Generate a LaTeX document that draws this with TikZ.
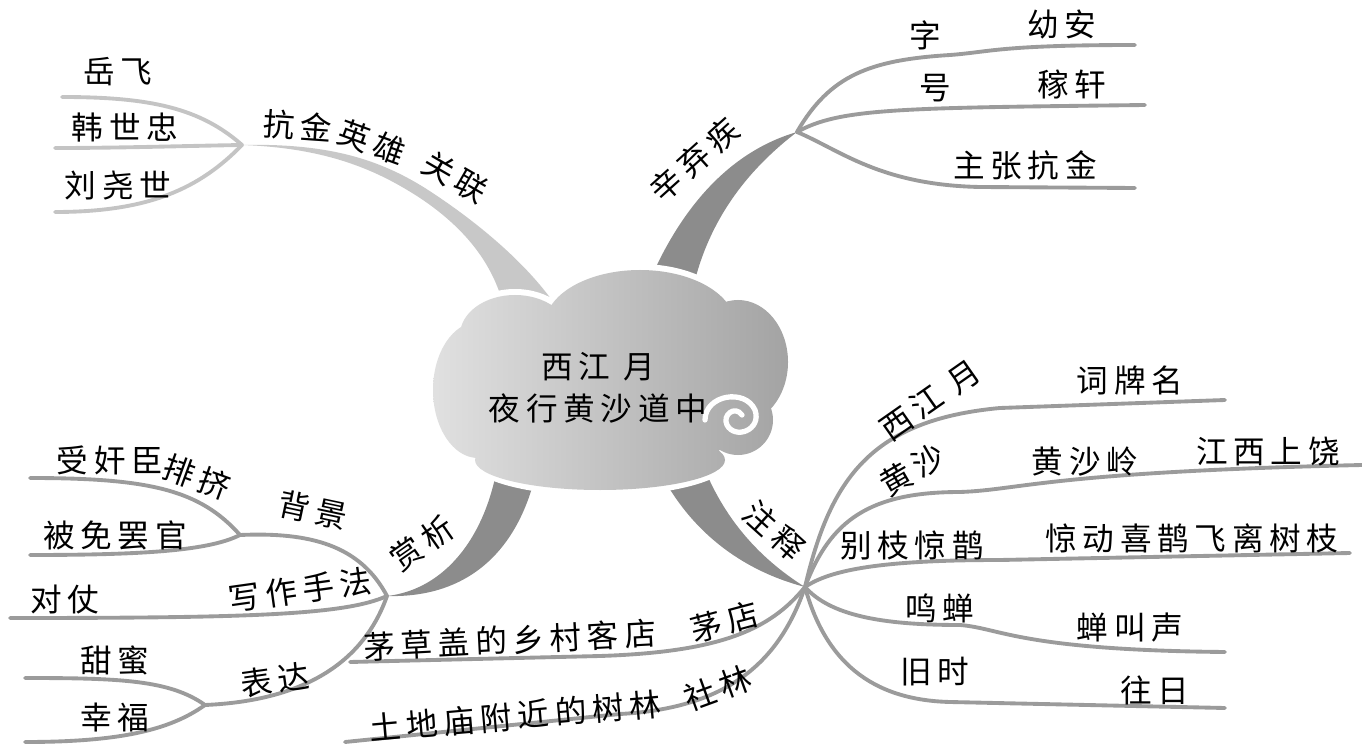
\documentclass[tikz,border=0pt]{standalone}
\usepackage{fontspec}
\newfontfamily\cjk[LetterSpace=18]{Noto Sans CJK SC}
\usetikzlibrary{positioning}
\definecolor{banddark}{RGB}{140,140,140}
\definecolor{bandlight}{RGB}{200,200,200}
\definecolor{twiggray}{RGB}{155,155,155}
\definecolor{twiglight}{RGB}{196,196,196}

\begin{document}
\begin{tikzpicture}[x=0.02cm, y=-0.02cm,
    word/.style={font=\cjk\fontsize{18}{24}\selectfont, inner sep=0pt},
    twig/.style={draw=twiggray, line width=2.2pt, line cap=round},
    lighttwig/.style={twig, draw=twiglight}
]
\useasboundingbox (0,0) rectangle (1362,746);

% junctions
\coordinate (j1) at (242,145);
\coordinate (j2) at (797,132);
\coordinate (j3) at (387,596);
\coordinate (j4) at (240,535);
\coordinate (j5) at (205,705);
\coordinate (j6) at (805,587);

% free ends
\coordinate (yf-e) at (62,97);
\coordinate (hsz-e) at (55,148);
\coordinate (lys-e) at (55,212);
\coordinate (zi-e) at (1135,45);
\coordinate (hao-e) at (1145,105);
\coordinate (zz-e) at (1135,188);
\coordinate (pj-e) at (30,478);
\coordinate (bm-e) at (30,555);
\coordinate (dz-e) at (10,618);
\coordinate (tm-e) at (25,678);
\coordinate (xf-e) at (25,742);
\coordinate (md-e) at (350,662);
\coordinate (sl-e) at (345,742);
\coordinate (cpm-e) at (1225,400);
\coordinate (jx-e) at (1362,465);
\coordinate (jd-e) at (1350,553);
\coordinate (cj-e) at (1225,652);
\coordinate (wr-e) at (1225,708);

% main bands
\fill[bandlight] (j1) .. controls (330,143) and (380,160) .. (425,188)
    .. controls (475,220) and (530,265) .. (560,312) -- (505,312)
    .. controls (495,265) and (465,228) .. (420,198)
    .. controls (380,172) and (330,148) .. (j1);
\fill[banddark] (j2) .. controls (735,150) and (685,200) .. (650,280) -- (695,280)
    .. controls (712,215) and (750,168) .. (j2);
\fill[banddark] (j3) .. controls (440,590) and (480,545) .. (495,478) -- (532,488)
    .. controls (510,560) and (460,598) .. (j3);
\fill[banddark] (660,472) .. controls (690,530) and (740,570) .. (j6)
    .. controls (770,565) and (730,530) .. (705,470) -- cycle;

% twigs
\draw[lighttwig] (j1) .. controls (200,108) and (150,97) .. (yf-e);
\draw[lighttwig] (j1) .. controls (180,146) and (120,148) .. (hsz-e);
\draw[lighttwig] (j1) .. controls (200,188) and (150,212) .. (lys-e);

\draw[twig] (j2) .. controls (830,75) and (870,60) .. (950,55)
    .. controls (990,52) and (1000,45) .. (zi-e);
\draw[twig] (j2) .. controls (840,108) and (900,108) .. (hao-e);
\draw[twig] (j2) .. controls (840,150) and (880,185) .. (980,187) -- (zz-e);

\draw[twig] (j3) .. controls (360,545) and (310,532) .. (j4);
\draw[twig] (j4) .. controls (200,490) and (150,478) .. (pj-e);
\draw[twig] (j4) .. controls (210,550) and (150,555) .. (bm-e);
\draw[twig] (j3) .. controls (345,615) and (250,618) .. (dz-e);
\draw[twig] (j3) .. controls (368,650) and (320,700) .. (j5);
\draw[twig] (j5) .. controls (170,680) and (120,678) .. (tm-e);
\draw[twig] (j5) .. controls (170,730) and (120,742) .. (xf-e);

\draw[twig] (j6) .. controls (770,630) and (720,652) .. (600,656) -- (md-e);
\draw[twig] (j6) .. controls (780,660) and (730,708) .. (620,714) -- (sl-e);
\draw[twig] (j6) .. controls (830,480) and (870,420) .. (1000,408) -- (cpm-e);
\draw[twig] (j6) .. controls (830,520) and (870,492) .. (960,492)
    .. controls (1020,490) and (1050,472) .. (jx-e);
\draw[twig] (j6) .. controls (830,570) and (880,560) .. (1000,560) -- (jd-e);
\draw[twig] (j6) .. controls (830,615) and (880,625) .. (960,625)
    .. controls (1000,628) and (1020,650) .. (cj-e);
\draw[twig] (j6) .. controls (825,660) and (870,700) .. (950,702) -- (wr-e);

% cloud
\fill[white] (610,392) ellipse [x radius=156, y radius=91]
    (640,325) ellipse [x radius=101, y radius=61]
    (478,390) ellipse [x radius=51, y radius=74]
    (515,335) ellipse [x radius=61, y radius=46]
    (738,362) ellipse [x radius=56, y radius=68]
    (600,460) ellipse [x radius=131, y radius=36]
    (738,420) circle [radius=41];
\shade[left color=black!12, right color=black!36]
    (610,392) ellipse [x radius=150, y radius=85]
    (640,325) ellipse [x radius=95, y radius=55]
    (478,390) ellipse [x radius=45, y radius=68]
    (515,335) ellipse [x radius=55, y radius=40]
    (738,362) ellipse [x radius=50, y radius=62]
    (600,460) ellipse [x radius=125, y radius=30]
    (738,420) circle [radius=35];
\draw[white, line width=3pt, line cap=round] (705,420) .. controls (705,395) and (745,388) .. (755,410)
    .. controls (762,430) and (735,440) .. (727,425) .. controls (722,415) and (735,405) .. (742,415);

\node[word, align=center] (title) at (598,388) {西江 月\\夜行黄沙道中};

% labels
\node[word] (yuefei) at (118,72) {岳飞};
\node[word] (hanshizhong) at (125,128) {韩世忠};
\node[word] (liuyaoshi) at (118,186) {刘尧世};
\node[word, rotate=-4] (kangjin) at (298,126) {抗金};
\node[word, rotate=-20] (yingxiong) at (372,142) {英雄};
\node[word, rotate=-30] (guanlian) at (455,177) {关联};
\node[word, rotate=42] (xinqiji) at (694,160) {辛弃疾};
\node[word] (zi) at (925,35) {字};
\node[word] (youan) at (1062,25) {幼安};
\node[word] (hao) at (935,88) {号};
\node[word] (jiaxuan) at (1072,85) {稼轩};
\node[word] (zhuzhang) at (1025,165) {主张抗金};

\node[word, rotate=35] (shangxi) at (422,543) {赏析};
\node[word, rotate=-12] (beijing) at (313,510) {背景};
\node[word] (shoujian) at (110,460) {受奸臣};
\node[word, rotate=-20] (paiji) at (197,477) {排挤};
\node[word] (bianmian) at (115,535) {被免罢官};
\node[word, rotate=8] (xiezuo) at (300,590) {写作手法};
\node[word] (duizhang) at (65,600) {对仗};
\node[word, rotate=8] (biaoda) at (275,680) {表达};
\node[word] (tianmi) at (115,660) {甜蜜};
\node[word] (xingfu) at (115,718) {幸福};
\node[word, rotate=3] (maocao) at (510,640) {茅草盖的乡村客店};
\node[word, rotate=15] (maodian) at (725,622) {茅店};
\node[word, rotate=5] (tudi) at (515,716) {土地庙附近的树林};
\node[word, rotate=20] (shelin) at (718,688) {社林};

\node[word, rotate=-42] (zhushi) at (774,531) {注释};
\node[word, rotate=35] (xijiang) at (930,400) {西江 月};
\node[word] (cipai) at (1130,380) {词牌名};
\node[word, rotate=30] (huangsha) at (912,470) {黄沙};
\node[word] (huangshaling) at (1085,462) {黄沙岭};
\node[word] (jiangxi) at (1268,452) {江西上饶};
\node[word] (biezhi) at (912,545) {别枝惊鹊};
\node[word] (jingdong) at (1192,538) {惊动喜鹊飞离树枝};
\node[word] (mingchan) at (940,608) {鸣蝉};
\node[word] (chanjiao) at (1130,628) {蝉叫声};
\node[word] (jiushi) at (935,672) {旧时};
\node[word] (wangri) at (1155,690) {往日};
\end{tikzpicture}
\end{document}
